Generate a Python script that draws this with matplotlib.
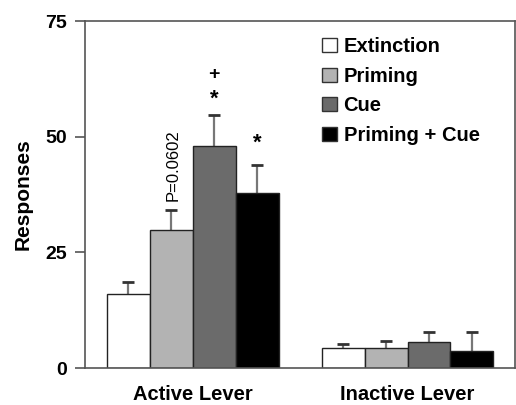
import matplotlib
matplotlib.use("Agg")
import matplotlib.pyplot as plt
from matplotlib.patches import Patch
import numpy as np

plt.rcParams['font.family'] = ['Liberation Sans', 'DejaVu Sans']

groups = ["Active Lever", "Inactive Lever"]
conditions = ["Extinction", "Priming", "Cue", "Priming + Cue"]
colors = ["#ffffff", "#b3b3b3", "#6b6b6b", "#000000"]
means = {
    "Extinction":    [16.0, 4.3],
    "Priming":       [29.8, 4.3],
    "Cue":           [48.0, 5.7],
    "Priming + Cue": [37.9, 3.7],
}
sems = {
    "Extinction":    [2.6, 0.9],
    "Priming":       [4.3, 1.5],
    "Cue":           [6.6, 2.1],
    "Priming + Cue": [6.1, 4.1],
}
yticks = [0, 25, 50, 75]

fig = plt.figure(figsize=(5.16, 4.05), dpi=100)
ax = fig.add_axes([0.165, 0.091, 0.833, 0.857])

group_starts = [0, 5]
for gi, g in enumerate(groups):
    for ci, c in enumerate(conditions):
        x = group_starts[gi] + ci
        m = means[c][gi]
        e = sems[c][gi]
        ax.bar(x, m, width=1.0, color=colors[ci], edgecolor="#222222", linewidth=1.0, zorder=2)
        ax.errorbar(x, m, yerr=[[0], [e]], fmt="none", ecolor="#777777",
                    elinewidth=1.6, capsize=0, zorder=1)
        ax.plot([x - 0.14, x + 0.14], [m + e, m + e], color="#333333", lw=2.0, zorder=3,
                solid_capstyle="butt")

ax.set_xlim(-1, 9)
ax.set_ylim(0, 75)
ax.set_yticks(yticks)
ax.set_yticklabels([str(t) for t in yticks], fontsize=14, fontweight="bold")
ax.set_xticks([1.5, 6.5])
ax.set_xticklabels(groups, fontsize=14.5, fontweight="bold")
ax.tick_params(axis="x", length=0, pad=12)
ax.tick_params(axis="y", length=7, width=1.2, color="#555555", pad=6)
for s in ax.spines.values():
    s.set_color("#555555")
    s.set_linewidth(1.2)
ax.set_ylabel("Responses", fontsize=15, fontweight="bold", labelpad=9)

# annotations
ax.text(1.04, 43.9, "P=0.0602", rotation=90, ha="center", va="center", fontsize=12)
ax.text(2.0, 58.1, "*", ha="center", va="center", fontsize=16, fontweight="bold")
ax.text(2.0, 63.5, "+", ha="center", va="center", fontsize=14, fontweight="bold")
ax.text(3.0, 48.7, "*", ha="center", va="center", fontsize=16, fontweight="bold")

handles = [Patch(facecolor=colors[i], edgecolor="#333333", linewidth=1.0) for i in range(4)]
leg = ax.legend(handles, conditions, loc="upper left", bbox_to_anchor=(0.51, 1.005),
                frameon=False, prop={"size": 14.5, "weight": "bold"},
                handlelength=0.7, handleheight=0.7, handletextpad=0.35, labelspacing=0.52)

fig.savefig("out.png", dpi=100)
